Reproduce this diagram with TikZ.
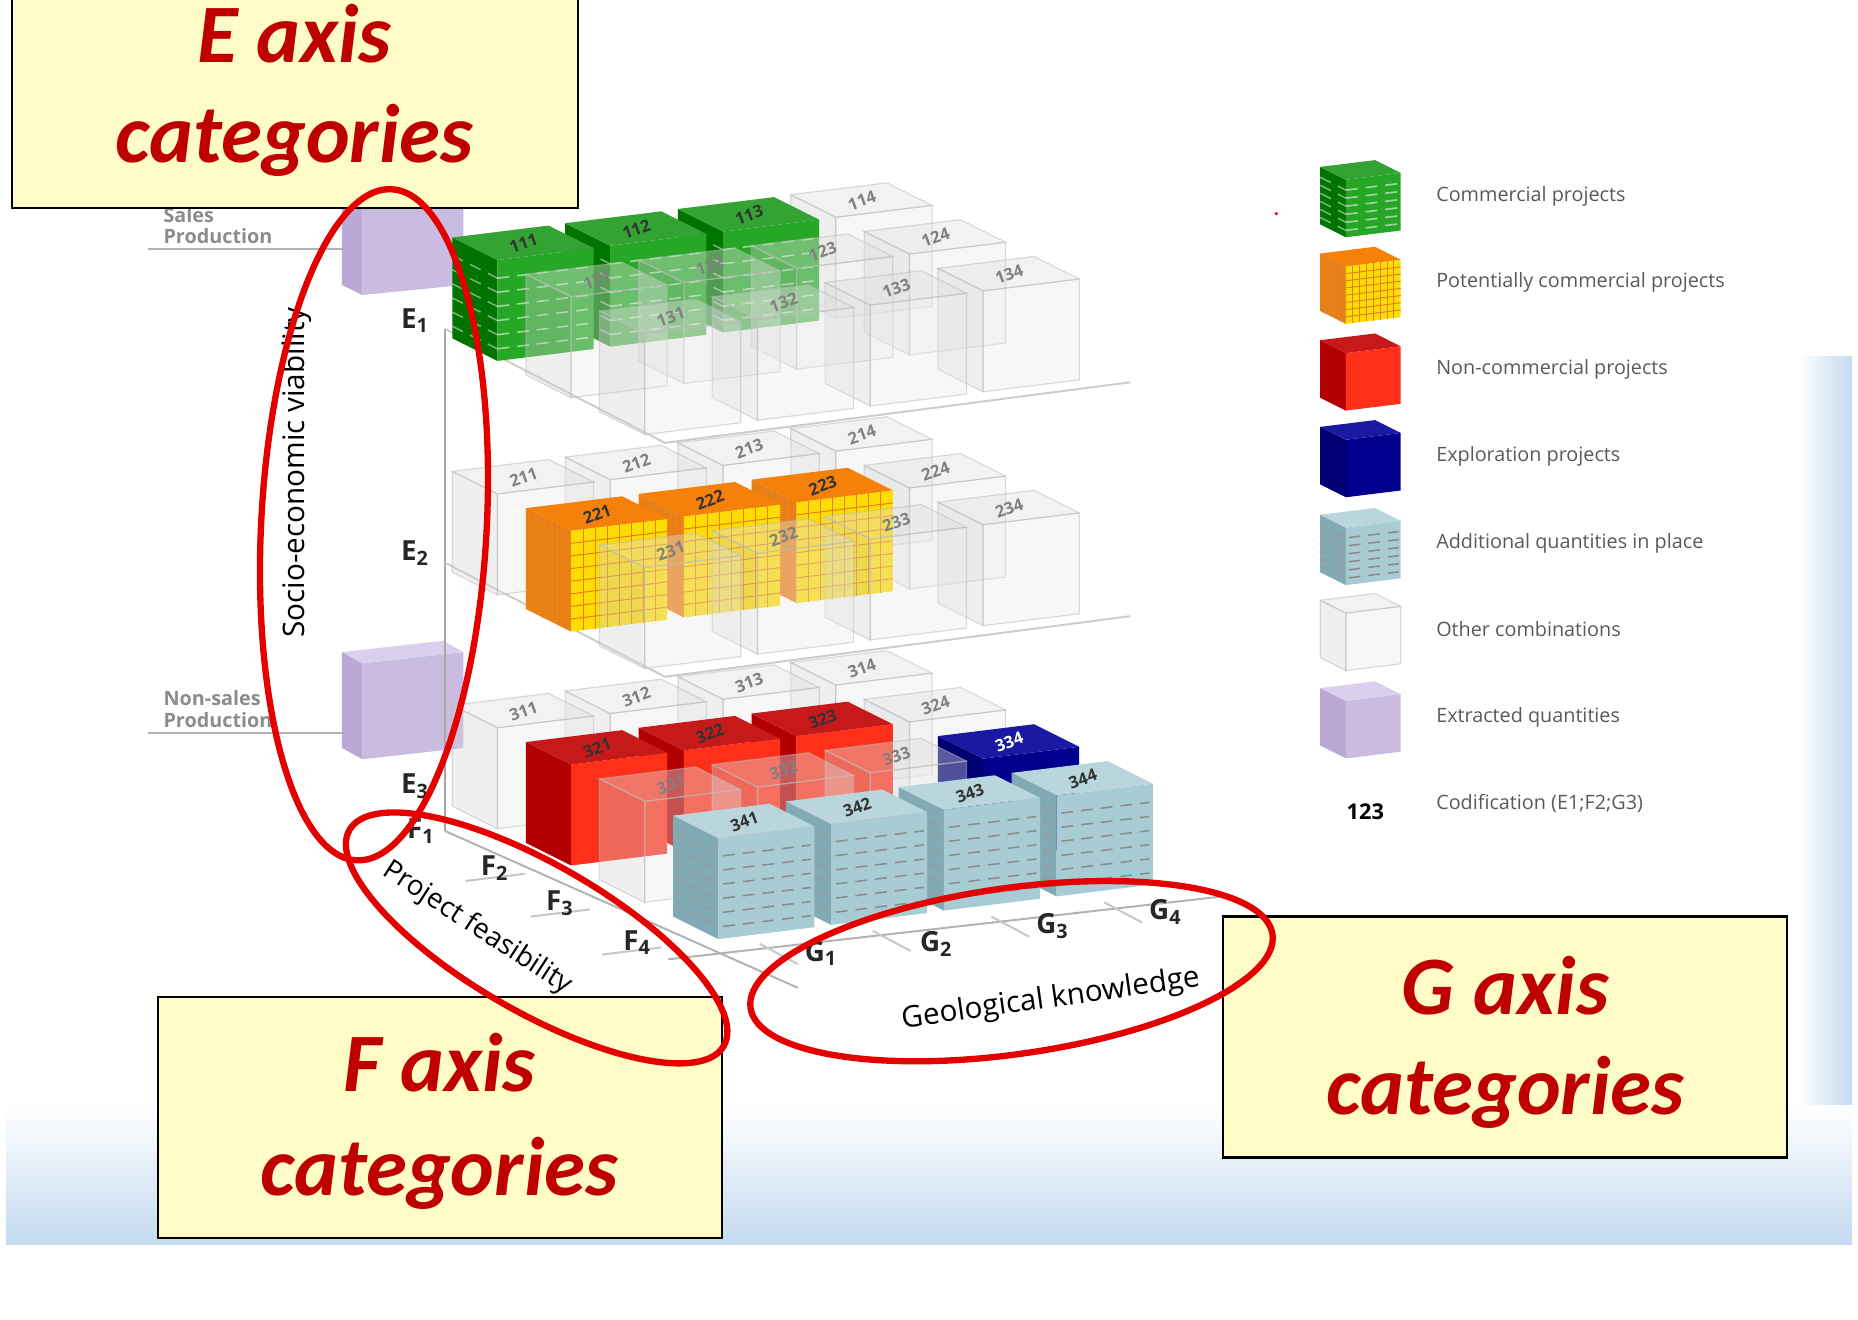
\documentclass[tikz,border=0pt]{standalone}
\usepackage{fontspec}
\setmainfont{Open Sans}
\newfontfamily\callfont{Carlito}
\definecolor{bgb}{RGB}{196,218,240}
\definecolor{tlf}{RGB}{168,204,212}
\definecolor{tll}{RGB}{130,170,180}
\definecolor{tlt}{RGB}{184,214,220}
\definecolor{puf}{RGB}{196,180,222}
\definecolor{pul}{RGB}{178,160,208}
\definecolor{put}{RGB}{214,202,234}
\begin{document}
\begin{tikzpicture}[x=0.3pt,y=-0.3pt,
  lab/.style={font=\fontsize{4.2}{5}\selectfont\bfseries,text=black!75,inner sep=0},
  gr-l/.style={fill=green!45!black},gr-f/.style={fill=green!60!black!85},gr-t/.style={fill=green!55!black!80!white},
  or-l/.style={fill=orange!70!brown},or-f/.style={fill=yellow!80!orange},or-t/.style={fill=orange!85!brown},
  rd-l/.style={fill=red!70!black},rd-f/.style={fill=red!80!orange!90},rd-t/.style={fill=red!75!black!90},
  bl-l/.style={fill=blue!45!black},bl-f/.style={fill=blue!55!black},bl-t/.style={fill=blue!60!black!90!white},
  tl-l/.style={fill=tll},tl-f/.style={fill=tlf},tl-t/.style={fill=tlt},
  wh-l/.style={fill=gray!35,fill opacity=0.35,draw=gray!55,draw opacity=0.5,line width=0.3pt},
  wh-f/.style={fill=gray!18,fill opacity=0.35,draw=gray!55,draw opacity=0.5,line width=0.3pt},
  wh-t/.style={fill=gray!25,fill opacity=0.4,draw=gray!55,draw opacity=0.5,line width=0.3pt},
  pu-l/.style={fill=pul,fill opacity=0.9},pu-f/.style={fill=puf,fill opacity=0.9},pu-t/.style={fill=put,fill opacity=0.9},
  call/.style={draw=black,fill=yellow!22,line width=0.6pt},
  calltxt/.style={font=\callfont\bfseries\itshape\fontsize{21}{25}\selectfont,text=red!75!black},
  ring/.style={draw=red!90!black,line width=1.6pt},
  leg/.style={font=\fontsize{5}{6}\selectfont,text=black!65,anchor=west},
  axl/.style={font=\fontsize{7}{8}\selectfont\bfseries,text=black!85},
  pl/.style={draw=gray!40,line width=0.5pt}]
\useasboundingbox (0,0) rectangle (1565,1111);
% background
\shade[top color=white,bottom color=bgb] (5,930) rectangle (1560,1048);
\shade[left color=white,right color=bgb] (1515,300) rectangle (1560,930);
% texture macros
\def\decogr{\foreach \v in {0.12,0.26,...,0.95}{\draw[white,opacity=.55,line width=.4pt,dash pattern=on 3pt off 2pt] (38,19-85*\v)--(119,9-85*\v); \draw[white,opacity=.45,line width=.4pt,dash pattern=on 3pt off 2pt] (0,-85*\v)--(38,19-85*\v);}}
\def\decoor{\foreach \u in {0.125,0.25,...,0.9}{\draw[orange!60!brown,line width=.25pt] (38+81*\u,19-10*\u)--(38+81*\u,-66-10*\u); \draw[orange!60!brown,line width=.25pt] (38,19-85*\u)--(119,9-85*\u); \draw[orange!40!brown,line width=.25pt] (38*\u,19*\u)--(38*\u,19*\u-85);}}
\def\decotl{\foreach \v in {0.12,0.26,...,0.95}{\draw[black!45,line width=.4pt,dash pattern=on 3pt off 2pt] (42,18.5-85*\v)--(116,9.5-85*\v); \draw[black!40,line width=.4pt,dash pattern=on 2pt off 2pt] (3,1.5-85*\v)--(36,18-85*\v);}}
\def\decord{}\def\decobl{}\def\decowh{}\def\decopu{}
\newcommand\cubeat[5]{% x y kind label labelcolor
 \begin{scope}[shift={(#1,#2)}]
  \fill[#3-l] (0,0)--(38,19)--(38,-66)--(0,-85)--cycle;
  \fill[#3-f] (38,19)--(119,9)--(119,-76)--(38,-66)--cycle;
  \fill[#3-t] (0,-85)--(81,-95)--(119,-76)--(38,-66)--cycle;
  \csname deco#3\endcsname
  \node[lab,text=#5,rotate=20] at (60,-80) {#4};
 \end{scope}}
\newcommand\ucube[4]{%
 \pgfmathsetmacro\bx{381+(#3-1)*95+(#2-1)*62}%
 \pgfmathsetmacro\by{285-(#3-1)*12+(#2-1)*31+(#1-1)*197}%
 \def\lc{black!80}\def\tmpk{#4}\def\tmpw{wh}\def\tmpb{bl}%
 \ifx\tmpk\tmpw\def\lc{black!50}\fi\ifx\tmpk\tmpb\def\lc{white}\fi
 \cubeat{\bx}{\by}{#4}{#1#2#3}{\lc}}
\def\defk#1#2{\expandafter\def\csname k#1\endcsname{#2}}
\defk{111}{gr}\defk{112}{gr}\defk{113}{gr}
\defk{221}{or}\defk{222}{or}\defk{223}{or}
\defk{321}{rd}\defk{322}{rd}\defk{323}{rd}\defk{334}{bl}
\defk{341}{tl}\defk{342}{tl}\defk{343}{tl}\defk{344}{tl}
% extracted quantities
\draw[gray!60,line width=0.5pt] (125,210)--(290,210) (125,617)--(290,617);
\node[font=\fontsize{5}{5.5}\selectfont\bfseries,text=black!45,anchor=west,align=left] at (126,190) {Sales\\Production};
\node[font=\fontsize{5}{5.5}\selectfont\bfseries,text=black!45,anchor=west,align=left] at (126,597) {Non-sales\\Production};
\begin{scope}[shift={(288,240)},xscale=0.86,yscale=0.85]
 \fill[pu-l] (0,0)--(20,10)--(20,-75)--(0,-85)--cycle;
 \fill[pu-f] (20,10)--(119,0)--(119,-85)--(20,-75)--cycle;
 \fill[pu-t] (0,-85)--(99,-95)--(119,-85)--(20,-75)--cycle;
\end{scope}
\begin{scope}[shift={(288,630)},xscale=0.86,yscale=0.95]
 \fill[pu-l] (0,0)--(20,10)--(20,-75)--(0,-85)--cycle;
 \fill[pu-f] (20,10)--(119,0)--(119,-85)--(20,-75)--cycle;
 \fill[pu-t] (0,-85)--(99,-95)--(119,-85)--(20,-75)--cycle;
\end{scope}
% axes and planes
\draw[gray!70,line width=0.5pt] (375,277)--(375,700);
\draw[pl] (375,277)--(560,373)--(952,322);
\draw[pl] (375,474)--(560,570)--(952,519);
\draw[gray!60,line width=0.5pt] (375,700)--(672,832);
\draw[gray!60,line width=0.5pt] (563,808)--(1030,755);
\foreach \x/\y in {640/795,735/784,835/772,930/760}{\draw[gray!45,line width=0.5pt] (\x,\y)--++(32,17);}
\foreach \x/\y in {392/742,447/772,507/804}{\draw[gray!45,line width=0.5pt] (\x,\y)--++(50,-6);}
% cubes
\foreach \e/\nf in {1/3,2/3,3/4}{\foreach \f in {1,...,\nf}{\foreach \g in {4,3,2,1}{%
 \edef\kk{\ifcsname k\e\f\g\endcsname\csname k\e\f\g\endcsname\else wh\fi}%
 \edef\tmp{\noexpand\ucube{\e}{\f}{\g}{\kk}}\tmp}}}
% axis labels
\node[axl] at (350,270) {E\textsubscript{1}};
\node[axl] at (350,466) {E\textsubscript{2}};
\node[axl] at (350,662) {E\textsubscript{3}};
\node[axl] at (355,700) {F\textsubscript{1}};
\node[axl] at (417,731) {F\textsubscript{2}};
\node[axl] at (472,761) {F\textsubscript{3}};
\node[axl] at (537,794) {F\textsubscript{4}};
\node[axl] at (692,803) {G\textsubscript{1}};
\node[axl] at (789,795) {G\textsubscript{2}};
\node[axl] at (887,780) {G\textsubscript{3}};
\node[axl] at (982,768) {G\textsubscript{4}};
\node[font=\fontsize{7.5}{8}\selectfont,rotate=90] at (250,398) {Socio-economic viability};
\node[font=\fontsize{7}{8}\selectfont,rotate=-33] at (402,782) {Project feasibility};
\node[font=\fontsize{7.5}{8}\selectfont,rotate=8] at (885,842) {Geological knowledge};
% legend
\fill[red] (1075,180) circle (1.5);
\foreach \k/\t/\y in {gr/Commercial projects/165,or/Potentially commercial projects/238,rd/Non-commercial projects/311,bl/Exploration projects/384,tl/Additional quantities in place/458,wh/Other combinations/530,pu/Extracted quantities/604}{
 \begin{scope}[shift={(1112,\y+24)},scale=0.57]
  \fill[\k-l] (0,0)--(38,19)--(38,-66)--(0,-85)--cycle;
  \fill[\k-f] (38,19)--(119,9)--(119,-76)--(38,-66)--cycle;
  \fill[\k-t] (0,-85)--(81,-95)--(119,-76)--(38,-66)--cycle;
  \csname deco\k\endcsname
 \end{scope}
 \node[leg] at (1198,\y) {\t};}
\node[font=\fontsize{5.5}{6}\selectfont\bfseries] at (1150,684) {123};
\node[leg] at (1198,677) {Codification (E1;F2;G3)};
% callouts
\draw[call] (10,-5) rectangle (487,175);
\node[calltxt] at (248,28) {E axis};
\node[calltxt] at (248,118) {categories};
\draw[call] (133,840) rectangle (608,1043);
\node[calltxt] at (370,895) {F axis};
\node[calltxt] at (370,988) {categories};
\draw[call] (1030,772) rectangle (1505,975);
\node[calltxt] at (1268,830) {G axis};
\node[calltxt] at (1268,920) {categories};
% rings
\draw[ring,rotate around={-3:(315,442)}] (315,442) ellipse [x radius=95,y radius=283];
\draw[ring,rotate around={-30:(452,790)}] (452,790) ellipse [x radius=182,y radius=62];
\draw[ring,rotate around={8:(852,818)}] (852,818) ellipse [x radius=222,y radius=70];
\end{tikzpicture}
\end{document}
